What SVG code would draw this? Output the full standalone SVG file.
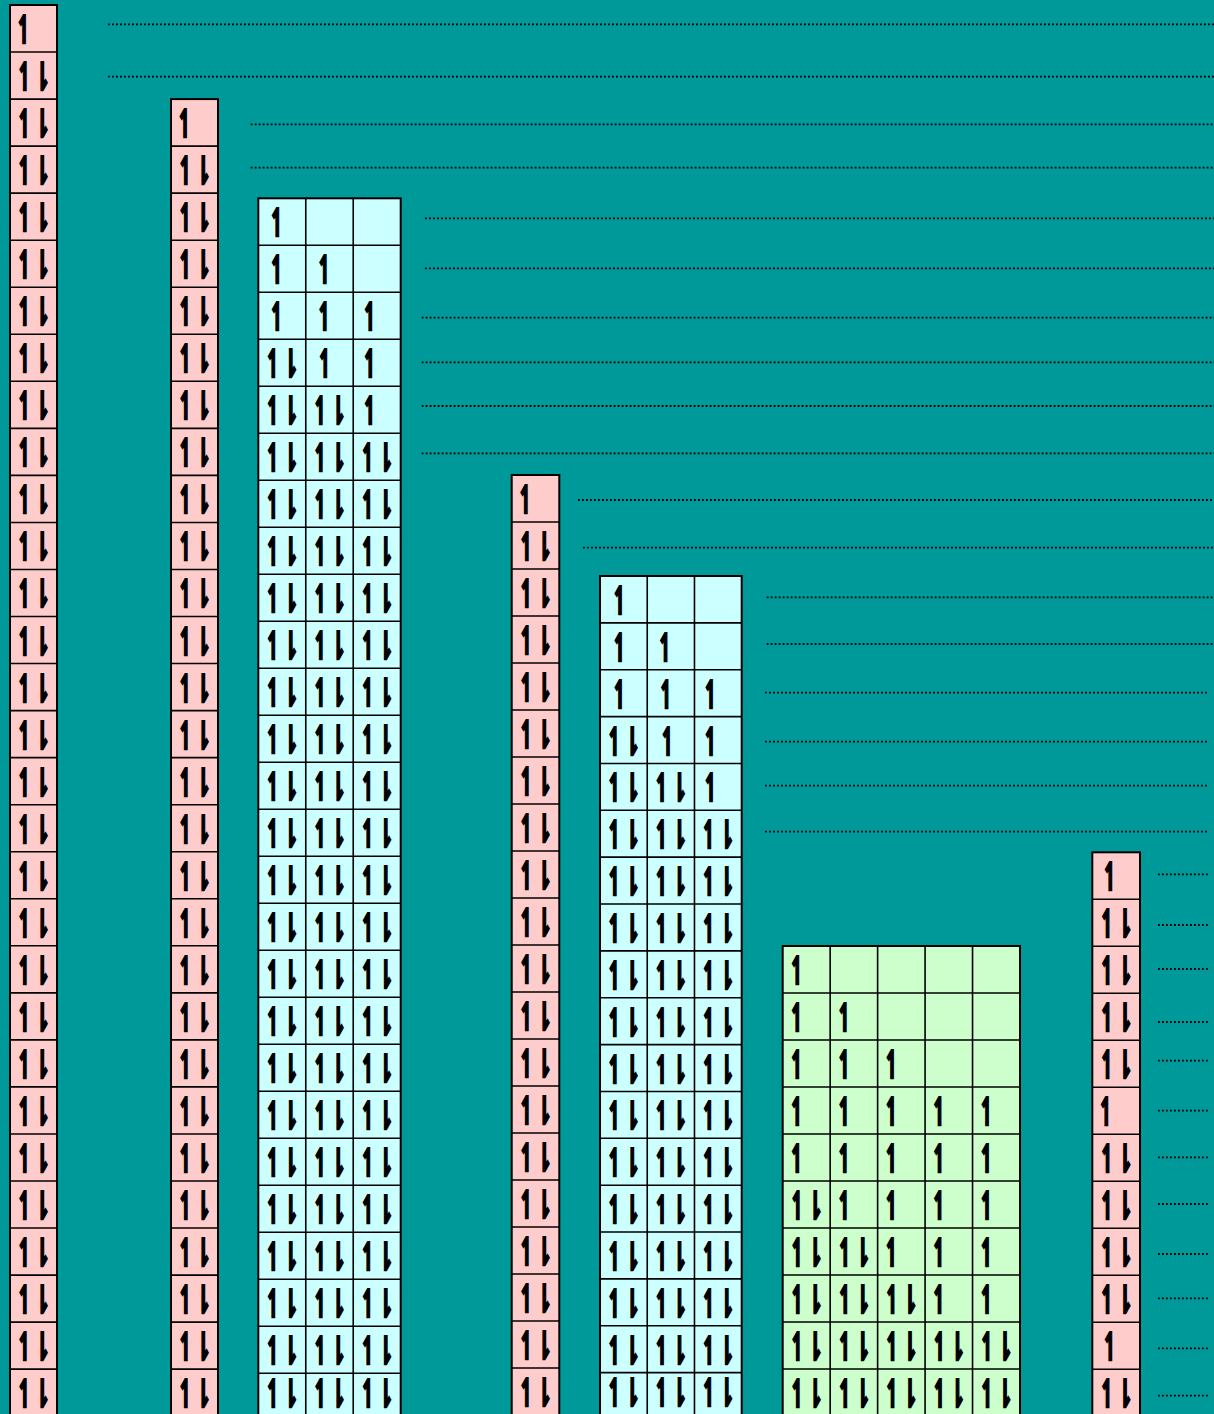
<svg xmlns="http://www.w3.org/2000/svg" width="1214" height="1414" viewBox="0 0 1214 1414">
<style>
.pk{fill:#FFCCCC;stroke:#000;stroke-width:2}
.cy{fill:#CCFFFF;stroke:#000;stroke-width:2}
.gr{fill:#CCFFCC;stroke:#000;stroke-width:2}
.gl{fill:none;stroke:#000;stroke-width:1.6}
.d{stroke:#000;stroke-width:1.8;stroke-dasharray:1.8 2.2}
text{font-family:"DejaVu Sans",sans-serif;font-weight:bold;font-size:38px;text-anchor:middle;fill:#000;stroke:#000;stroke-width:2.4;stroke-linejoin:miter}
</style>
<rect width="1214" height="1414" fill="#009999"/>
<g id="dotted-lines">
<line class="d" x1="108" y1="24.3" x2="1214" y2="24.3"/>
<line class="d" x1="108" y1="76.7" x2="1214" y2="76.7"/>
<line class="d" x1="250.7" y1="124.3" x2="1214" y2="124.3"/>
<line class="d" x1="250.7" y1="167.7" x2="1214" y2="167.7"/>
<line class="d" x1="425" y1="218.3" x2="1214" y2="218.3"/>
<line class="d" x1="425" y1="268.3" x2="1214" y2="268.3"/>
<line class="d" x1="421.7" y1="317.7" x2="1214" y2="317.7"/>
<line class="d" x1="421.7" y1="362.3" x2="1214" y2="362.3"/>
<line class="d" x1="421.7" y1="406" x2="1214" y2="406"/>
<line class="d" x1="421.7" y1="453.3" x2="1214" y2="453.3"/>
<line class="d" x1="578" y1="500" x2="1214" y2="500"/>
<line class="d" x1="583" y1="547.7" x2="1214" y2="547.7"/>
<line class="d" x1="766.7" y1="597.3" x2="1214" y2="597.3"/>
<line class="d" x1="766.7" y1="644" x2="1214" y2="644"/>
<line class="d" x1="765" y1="692.7" x2="1208" y2="692.7"/>
<line class="d" x1="765" y1="741.7" x2="1208" y2="741.7"/>
<line class="d" x1="765" y1="785.7" x2="1208" y2="785.7"/>
<line class="d" x1="765" y1="831.7" x2="1208" y2="831.7"/>
<line class="d" x1="1158" y1="874.3" x2="1209" y2="874.3"/>
<line class="d" x1="1158" y1="925" x2="1209" y2="925"/>
<line class="d" x1="1158" y1="969" x2="1209" y2="969"/>
<line class="d" x1="1158" y1="1022" x2="1209" y2="1022"/>
<line class="d" x1="1158" y1="1060.7" x2="1209" y2="1060.7"/>
<line class="d" x1="1158" y1="1110.7" x2="1209" y2="1110.7"/>
<line class="d" x1="1158" y1="1157.3" x2="1209" y2="1157.3"/>
<line class="d" x1="1158" y1="1204" x2="1209" y2="1204"/>
<line class="d" x1="1158" y1="1254" x2="1209" y2="1254"/>
<line class="d" x1="1158" y1="1298.3" x2="1209" y2="1298.3"/>
<line class="d" x1="1158" y1="1348.3" x2="1209" y2="1348.3"/>
<line class="d" x1="1158" y1="1395.7" x2="1209" y2="1395.7"/>
</g>
<g id="col1" transform="translate(10,5)">
<rect class="pk" width="47" height="1411.2"/>
<path class="gl" d="M0 47.04H47M0 94.08H47M0 141.12H47M0 188.16H47M0 235.2H47M0 282.24H47M0 329.28H47M0 376.32H47M0 423.36H47M0 470.4H47M0 517.44H47M0 564.48H47M0 611.52H47M0 658.56H47M0 705.6H47M0 752.64H47M0 799.68H47M0 846.72H47M0 893.76H47M0 940.8H47M0 987.84H47M0 1034.88H47M0 1081.92H47M0 1128.96H47M0 1176H47M0 1223.04H47M0 1270.08H47M0 1317.12H47M0 1364.16H47"/>
<g transform="scale(0.55,1)">
<text x="25.45" y="38">↿</text>
<text x="42.73" y="85.04">↿⇂</text>
<text x="42.73" y="132.08">↿⇂</text>
<text x="42.73" y="179.12">↿⇂</text>
<text x="42.73" y="226.16">↿⇂</text>
<text x="42.73" y="273.2">↿⇂</text>
<text x="42.73" y="320.24">↿⇂</text>
<text x="42.73" y="367.28">↿⇂</text>
<text x="42.73" y="414.32">↿⇂</text>
<text x="42.73" y="461.36">↿⇂</text>
<text x="42.73" y="508.4">↿⇂</text>
<text x="42.73" y="555.44">↿⇂</text>
<text x="42.73" y="602.48">↿⇂</text>
<text x="42.73" y="649.52">↿⇂</text>
<text x="42.73" y="696.56">↿⇂</text>
<text x="42.73" y="743.6">↿⇂</text>
<text x="42.73" y="790.64">↿⇂</text>
<text x="42.73" y="837.68">↿⇂</text>
<text x="42.73" y="884.72">↿⇂</text>
<text x="42.73" y="931.76">↿⇂</text>
<text x="42.73" y="978.8">↿⇂</text>
<text x="42.73" y="1025.84">↿⇂</text>
<text x="42.73" y="1072.88">↿⇂</text>
<text x="42.73" y="1119.92">↿⇂</text>
<text x="42.73" y="1166.96">↿⇂</text>
<text x="42.73" y="1214">↿⇂</text>
<text x="42.73" y="1261.04">↿⇂</text>
<text x="42.73" y="1308.08">↿⇂</text>
<text x="42.73" y="1355.12">↿⇂</text>
<text x="42.73" y="1402.16">↿⇂</text>
</g>
</g>
<g id="col2" transform="translate(171,99.08)">
<rect class="pk" width="47" height="1317"/>
<path class="gl" d="M0 47.04H47M0 94.08H47M0 141.12H47M0 188.16H47M0 235.2H47M0 282.24H47M0 329.28H47M0 376.32H47M0 423.36H47M0 470.4H47M0 517.44H47M0 564.48H47M0 611.52H47M0 658.56H47M0 705.6H47M0 752.64H47M0 799.68H47M0 846.72H47M0 893.76H47M0 940.8H47M0 987.84H47M0 1034.88H47M0 1081.92H47M0 1128.96H47M0 1176H47M0 1223.04H47M0 1270.08H47"/>
<g transform="scale(0.55,1)">
<text x="25.45" y="38">↿</text>
<text x="42.73" y="85.04">↿⇂</text>
<text x="42.73" y="132.08">↿⇂</text>
<text x="42.73" y="179.12">↿⇂</text>
<text x="42.73" y="226.16">↿⇂</text>
<text x="42.73" y="273.2">↿⇂</text>
<text x="42.73" y="320.24">↿⇂</text>
<text x="42.73" y="367.28">↿⇂</text>
<text x="42.73" y="414.32">↿⇂</text>
<text x="42.73" y="461.36">↿⇂</text>
<text x="42.73" y="508.4">↿⇂</text>
<text x="42.73" y="555.44">↿⇂</text>
<text x="42.73" y="602.48">↿⇂</text>
<text x="42.73" y="649.52">↿⇂</text>
<text x="42.73" y="696.56">↿⇂</text>
<text x="42.73" y="743.6">↿⇂</text>
<text x="42.73" y="790.64">↿⇂</text>
<text x="42.73" y="837.68">↿⇂</text>
<text x="42.73" y="884.72">↿⇂</text>
<text x="42.73" y="931.76">↿⇂</text>
<text x="42.73" y="978.8">↿⇂</text>
<text x="42.73" y="1025.84">↿⇂</text>
<text x="42.73" y="1072.88">↿⇂</text>
<text x="42.73" y="1119.92">↿⇂</text>
<text x="42.73" y="1166.96">↿⇂</text>
<text x="42.73" y="1214">↿⇂</text>
<text x="42.73" y="1261.04">↿⇂</text>
<text x="42.73" y="1308.08">↿⇂</text>
</g>
</g>
<g id="col3" transform="translate(258.3,198.3)">
<rect class="cy" width="142.4" height="1222"/>
<path class="gl" d="M47.47 0V1222M94.93 0V1222M0 47H142.4M0 94H142.4M0 141H142.4M0 188H142.4M0 235H142.4M0 282H142.4M0 329H142.4M0 376H142.4M0 423H142.4M0 470H142.4M0 517H142.4M0 564H142.4M0 611H142.4M0 658H142.4M0 705H142.4M0 752H142.4M0 799H142.4M0 846H142.4M0 893H142.4M0 940H142.4M0 987H142.4M0 1034H142.4M0 1081H142.4M0 1128H142.4M0 1175H142.4"/>
<g transform="scale(0.55,1)">
<text x="34.55" y="38">↿</text>
<text x="34.55" y="85">↿</text><text x="120.91" y="85">↿</text>
<text x="34.55" y="132">↿</text><text x="120.91" y="132">↿</text><text x="203.64" y="132">↿</text>
<text x="43.09" y="179">↿⇂</text><text x="121.82" y="179">↿</text><text x="203.64" y="179">↿</text>
<text x="43.09" y="226">↿⇂</text><text x="129.45" y="226">↿⇂</text><text x="203.64" y="226">↿</text>
<text x="43.09" y="273">↿⇂</text><text x="129.45" y="273">↿⇂</text><text x="215.82" y="273">↿⇂</text>
<text x="43.09" y="320">↿⇂</text><text x="129.45" y="320">↿⇂</text><text x="215.82" y="320">↿⇂</text>
<text x="43.09" y="367">↿⇂</text><text x="129.45" y="367">↿⇂</text><text x="215.82" y="367">↿⇂</text>
<text x="43.09" y="414">↿⇂</text><text x="129.45" y="414">↿⇂</text><text x="215.82" y="414">↿⇂</text>
<text x="43.09" y="461">↿⇂</text><text x="129.45" y="461">↿⇂</text><text x="215.82" y="461">↿⇂</text>
<text x="43.09" y="508">↿⇂</text><text x="129.45" y="508">↿⇂</text><text x="215.82" y="508">↿⇂</text>
<text x="43.09" y="555">↿⇂</text><text x="129.45" y="555">↿⇂</text><text x="215.82" y="555">↿⇂</text>
<text x="43.09" y="602">↿⇂</text><text x="129.45" y="602">↿⇂</text><text x="215.82" y="602">↿⇂</text>
<text x="43.09" y="649">↿⇂</text><text x="129.45" y="649">↿⇂</text><text x="215.82" y="649">↿⇂</text>
<text x="43.09" y="696">↿⇂</text><text x="129.45" y="696">↿⇂</text><text x="215.82" y="696">↿⇂</text>
<text x="43.09" y="743">↿⇂</text><text x="129.45" y="743">↿⇂</text><text x="215.82" y="743">↿⇂</text>
<text x="43.09" y="790">↿⇂</text><text x="129.45" y="790">↿⇂</text><text x="215.82" y="790">↿⇂</text>
<text x="43.09" y="837">↿⇂</text><text x="129.45" y="837">↿⇂</text><text x="215.82" y="837">↿⇂</text>
<text x="43.09" y="884">↿⇂</text><text x="129.45" y="884">↿⇂</text><text x="215.82" y="884">↿⇂</text>
<text x="43.09" y="931">↿⇂</text><text x="129.45" y="931">↿⇂</text><text x="215.82" y="931">↿⇂</text>
<text x="43.09" y="978">↿⇂</text><text x="129.45" y="978">↿⇂</text><text x="215.82" y="978">↿⇂</text>
<text x="43.09" y="1025">↿⇂</text><text x="129.45" y="1025">↿⇂</text><text x="215.82" y="1025">↿⇂</text>
<text x="43.09" y="1072">↿⇂</text><text x="129.45" y="1072">↿⇂</text><text x="215.82" y="1072">↿⇂</text>
<text x="43.09" y="1119">↿⇂</text><text x="129.45" y="1119">↿⇂</text><text x="215.82" y="1119">↿⇂</text>
<text x="43.09" y="1166">↿⇂</text><text x="129.45" y="1166">↿⇂</text><text x="215.82" y="1166">↿⇂</text>
<text x="43.09" y="1208.5">↿⇂</text><text x="129.45" y="1208.5">↿⇂</text><text x="215.82" y="1208.5">↿⇂</text>
</g>
</g>
<g id="col4" transform="translate(511.7,475)">
<rect class="pk" width="47.6" height="945"/>
<path class="gl" d="M0 47H47.6M0 94H47.6M0 141H47.6M0 188H47.6M0 235H47.6M0 282H47.6M0 329H47.6M0 376H47.6M0 423H47.6M0 470H47.6M0 517H47.6M0 564H47.6M0 611H47.6M0 658H47.6M0 705H47.6M0 752H47.6M0 799H47.6M0 846H47.6M0 893H47.6"/>
<g transform="scale(0.55,1)">
<text x="25.45" y="38">↿</text>
<text x="43.27" y="85">↿⇂</text>
<text x="43.27" y="132">↿⇂</text>
<text x="43.27" y="179">↿⇂</text>
<text x="43.27" y="226">↿⇂</text>
<text x="43.27" y="273">↿⇂</text>
<text x="43.27" y="320">↿⇂</text>
<text x="43.27" y="367">↿⇂</text>
<text x="43.27" y="414">↿⇂</text>
<text x="43.27" y="461">↿⇂</text>
<text x="43.27" y="508">↿⇂</text>
<text x="43.27" y="555">↿⇂</text>
<text x="43.27" y="602">↿⇂</text>
<text x="43.27" y="649">↿⇂</text>
<text x="43.27" y="696">↿⇂</text>
<text x="43.27" y="743">↿⇂</text>
<text x="43.27" y="790">↿⇂</text>
<text x="43.27" y="837">↿⇂</text>
<text x="43.27" y="884">↿⇂</text>
<text x="43.27" y="931">↿⇂</text>
</g>
</g>
<g id="col5" transform="translate(600,576)">
<rect class="cy" width="141.7" height="845"/>
<path class="gl" d="M47.23 0V845M94.47 0V845M0 46.86H141.7M0 93.72H141.7M0 140.58H141.7M0 187.44H141.7M0 234.3H141.7M0 281.16H141.7M0 328.02H141.7M0 374.88H141.7M0 421.74H141.7M0 468.6H141.7M0 515.46H141.7M0 562.32H141.7M0 609.18H141.7M0 656.04H141.7M0 702.9H141.7M0 749.76H141.7M0 796.62H141.7"/>
<g transform="scale(0.55,1)">
<text x="36.36" y="38">↿</text>
<text x="36.36" y="84.86">↿</text><text x="119.09" y="84.86">↿</text>
<text x="36.36" y="131.72">↿</text><text x="120.91" y="131.72">↿</text><text x="201.82" y="131.72">↿</text>
<text x="42.91" y="178.58">↿⇂</text><text x="123.64" y="178.58">↿</text><text x="201.82" y="178.58">↿</text>
<text x="42.91" y="225.44">↿⇂</text><text x="128.82" y="225.44">↿⇂</text><text x="201.82" y="225.44">↿</text>
<text x="42.91" y="272.3">↿⇂</text><text x="128.82" y="272.3">↿⇂</text><text x="214.73" y="272.3">↿⇂</text>
<text x="42.91" y="319.16">↿⇂</text><text x="128.82" y="319.16">↿⇂</text><text x="214.73" y="319.16">↿⇂</text>
<text x="42.91" y="366.02">↿⇂</text><text x="128.82" y="366.02">↿⇂</text><text x="214.73" y="366.02">↿⇂</text>
<text x="42.91" y="412.88">↿⇂</text><text x="128.82" y="412.88">↿⇂</text><text x="214.73" y="412.88">↿⇂</text>
<text x="42.91" y="459.74">↿⇂</text><text x="128.82" y="459.74">↿⇂</text><text x="214.73" y="459.74">↿⇂</text>
<text x="42.91" y="506.6">↿⇂</text><text x="128.82" y="506.6">↿⇂</text><text x="214.73" y="506.6">↿⇂</text>
<text x="42.91" y="553.46">↿⇂</text><text x="128.82" y="553.46">↿⇂</text><text x="214.73" y="553.46">↿⇂</text>
<text x="42.91" y="600.32">↿⇂</text><text x="128.82" y="600.32">↿⇂</text><text x="214.73" y="600.32">↿⇂</text>
<text x="42.91" y="647.18">↿⇂</text><text x="128.82" y="647.18">↿⇂</text><text x="214.73" y="647.18">↿⇂</text>
<text x="42.91" y="694.04">↿⇂</text><text x="128.82" y="694.04">↿⇂</text><text x="214.73" y="694.04">↿⇂</text>
<text x="42.91" y="740.9">↿⇂</text><text x="128.82" y="740.9">↿⇂</text><text x="214.73" y="740.9">↿⇂</text>
<text x="42.91" y="787.76">↿⇂</text><text x="128.82" y="787.76">↿⇂</text><text x="214.73" y="787.76">↿⇂</text>
<text x="42.91" y="830.5">↿⇂</text><text x="128.82" y="830.5">↿⇂</text><text x="214.73" y="830.5">↿⇂</text>
</g>
</g>
<g id="col6" transform="translate(782.7,946)">
<rect class="gr" width="237.3" height="474"/>
<path class="gl" d="M47.46 0V474M94.92 0V474M142.38 0V474M189.84 0V474M0 47H237.3M0 94H237.3M0 141H237.3M0 188H237.3M0 235H237.3M0 282H237.3M0 329H237.3M0 376H237.3M0 423H237.3"/>
<g transform="scale(0.55,1)">
<text x="26.36" y="38">↿</text>
<text x="26.36" y="85">↿</text><text x="112.73" y="85">↿</text>
<text x="26.36" y="132">↿</text><text x="112.73" y="132">↿</text><text x="198.91" y="132">↿</text>
<text x="26.36" y="179">↿</text><text x="112.73" y="179">↿</text><text x="198.91" y="179">↿</text><text x="285.27" y="179">↿</text><text x="371.45" y="179">↿</text>
<text x="26.36" y="226">↿</text><text x="112.73" y="226">↿</text><text x="198.91" y="226">↿</text><text x="285.27" y="226">↿</text><text x="371.45" y="226">↿</text>
<text x="43.09" y="273">↿⇂</text><text x="112.73" y="273">↿</text><text x="198.91" y="273">↿</text><text x="285.27" y="273">↿</text><text x="371.45" y="273">↿</text>
<text x="43.09" y="320">↿⇂</text><text x="129.45" y="320">↿⇂</text><text x="198.91" y="320">↿</text><text x="285.27" y="320">↿</text><text x="371.45" y="320">↿</text>
<text x="43.09" y="367">↿⇂</text><text x="129.45" y="367">↿⇂</text><text x="215.64" y="367">↿⇂</text><text x="285.27" y="367">↿</text><text x="371.45" y="367">↿</text>
<text x="43.09" y="414">↿⇂</text><text x="129.45" y="414">↿⇂</text><text x="215.64" y="414">↿⇂</text><text x="302" y="414">↿⇂</text><text x="388.36" y="414">↿⇂</text>
<text x="43.09" y="461">↿⇂</text><text x="129.45" y="461">↿⇂</text><text x="215.64" y="461">↿⇂</text><text x="302" y="461">↿⇂</text><text x="388.36" y="461">↿⇂</text>
</g>
</g>
<g id="col7" transform="translate(1092.3,852.3)">
<rect class="pk" width="47.7" height="570"/>
<path class="gl" d="M0 47H47.7M0 94H47.7M0 141H47.7M0 188H47.7M0 235H47.7M0 282H47.7M0 329H47.7M0 376H47.7M0 423H47.7M0 470H47.7M0 517H47.7"/>
<g transform="scale(0.55,1)">
<text x="32.73" y="38">↿</text>
<text x="43.36" y="85">↿⇂</text>
<text x="43.36" y="132">↿⇂</text>
<text x="43.36" y="179">↿⇂</text>
<text x="43.36" y="226">↿⇂</text>
<text x="25.45" y="273">↿</text>
<text x="43.36" y="320">↿⇂</text>
<text x="43.36" y="367">↿⇂</text>
<text x="43.36" y="414">↿⇂</text>
<text x="43.36" y="461">↿⇂</text>
<text x="32.73" y="508">↿</text>
<text x="43.36" y="555">↿⇂</text>
</g>
</g>
</svg>
